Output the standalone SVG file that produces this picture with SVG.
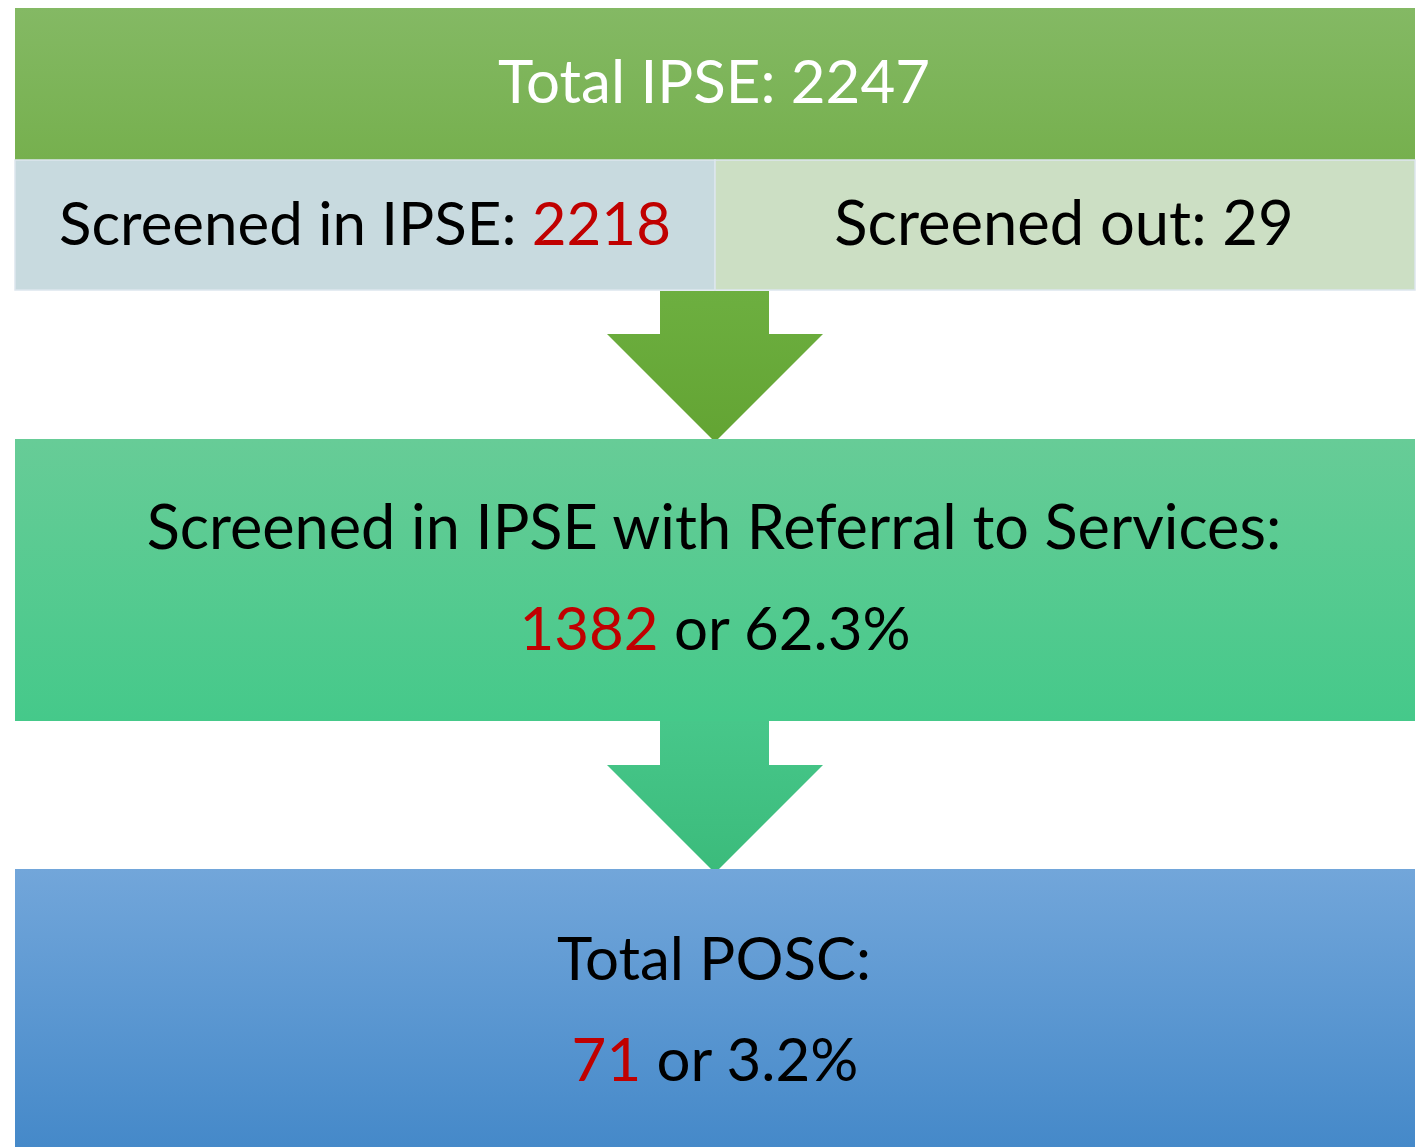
<svg xmlns="http://www.w3.org/2000/svg" width="1422" height="1147" viewBox="0 0 1422 1147">
<style>
.t{font-family:Lato,"Open Sans","Liberation Sans",sans-serif;font-size:60px;text-anchor:middle;fill:#000}
.w{fill:#fff}
.r{fill:#c00000}
.cell{stroke:#dde6ee;stroke-width:1.5}
</style>
<defs>
<linearGradient id="g1" x1="0" y1="0" x2="0" y2="1"><stop offset="0" stop-color="#84b964"/><stop offset="1" stop-color="#76b04e"/></linearGradient>
<linearGradient id="a1" x1="0" y1="0" x2="0" y2="1"><stop offset="0" stop-color="#6daf40"/><stop offset="1" stop-color="#63a433"/></linearGradient>
<linearGradient id="g2" x1="0" y1="0" x2="0" y2="1"><stop offset="0" stop-color="#67cc97"/><stop offset="1" stop-color="#45c98a"/></linearGradient>
<linearGradient id="a2" x1="0" y1="0" x2="0" y2="1"><stop offset="0" stop-color="#47c78a"/><stop offset="1" stop-color="#3bbb7b"/></linearGradient>
<linearGradient id="g3" x1="0" y1="0" x2="0" y2="1"><stop offset="0" stop-color="#72a6da"/><stop offset="1" stop-color="#4589c9"/></linearGradient>
</defs>
<g id="connectors">
<polygon points="660,291 769,291 769,334 823,334 715,442 607,334 660,334" fill="url(#a1)"/>
<polygon points="660,721 769,721 769,765 823,765 715,873 607,765 660,765" fill="url(#a2)"/>
</g>
<g id="total-ipse">
<rect x="15" y="8" width="1400" height="152" fill="url(#g1)"/>
<text class="t w" x="714" y="103">Total IPSE: 2247</text>
</g>
<g id="screened-in">
<rect class="cell" x="15" y="160" width="700" height="130" fill="#c8dadf"/>
<text class="t" x="365" y="245">Screened in IPSE: <tspan class="r">2218</tspan></text>
</g>
<g id="screened-out">
<rect class="cell" x="715" y="160" width="700" height="130" fill="#ccdfc4"/>
<text class="t" x="1064" y="245" style="font-size:61.5px">Screened out: 29</text>
</g>
<g id="referral">
<rect x="15" y="439" width="1400" height="282" fill="url(#g2)"/>
<text class="t" x="714" y="549" style="font-size:61.2px">Screened in IPSE with Referral to Services:</text>
<text class="t" x="715" y="650"><tspan class="r">1382</tspan> or 62.3%</text>
</g>
<g id="posc">
<rect x="15" y="869" width="1400" height="278" fill="url(#g3)"/>
<text class="t" x="714" y="980">Total POSC:</text>
<text class="t" x="715" y="1081"><tspan class="r">71</tspan> or 3.2%</text>
</g>
</svg>
